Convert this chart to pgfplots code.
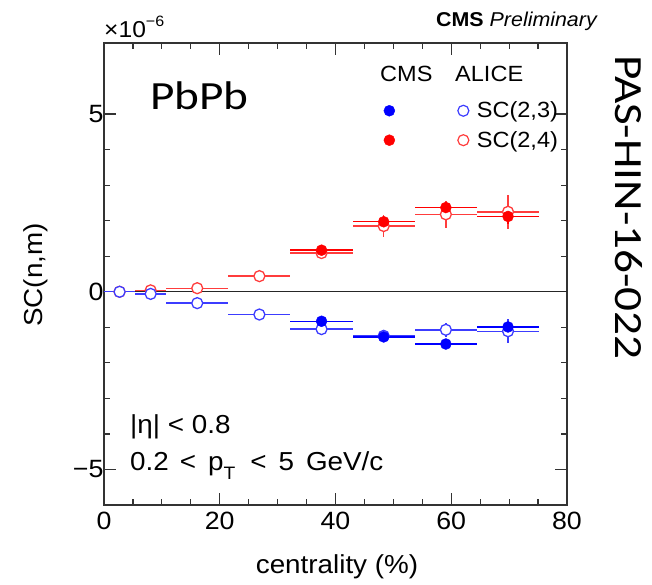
\documentclass[border=0pt]{standalone}
\usepackage{fontspec}
\setmainfont{Liberation Sans}[FakeStretch=1.07]
\newfontfamily\calfont{Carlito}[FakeStretch=1.18]
\usepackage{pgfplots}
\usepackage{pgfplotstable}
\pgfplotsset{compat=1.18}
\definecolor{cmsblue}{RGB}{0,0,255}
\definecolor{cmsred}{RGB}{255,0,0}
\definecolor{aliblue}{RGB}{60,60,255}
\definecolor{alired}{RGB}{255,60,60}
\newcommand{\fs}[1]{\fontsize{#1}{#1}\selectfont}

% ALICE SC(2,3)
\pgfplotstableread{
x y ex ey
2.69 0.00 2.69 0.04
8.06 -0.06 2.69 0.05
16.11 -0.32 5.37 0.06
26.85 -0.64 5.37 0.08
37.59 -1.05 5.37 0.12
48.33 -1.24 5.37 0.15
59.07 -1.07 5.37 0.20
69.81 -1.11 5.37 0.33
}\aliceA
% ALICE SC(2,4)
\pgfplotstableread{
x y ex ey
2.69 0.00 2.69 0.04
8.06 0.04 2.69 0.05
16.11 0.10 5.37 0.06
26.85 0.44 5.37 0.10
37.59 1.09 5.37 0.15
48.33 1.85 5.37 0.30
59.07 2.18 5.37 0.38
69.81 2.25 5.37 0.47
}\aliceB
% CMS SC(2,3)
\pgfplotstableread{
x y ex ey
37.59 -0.83 5.37 0.05
48.33 -1.27 5.37 0.08
59.07 -1.47 5.37 0.08
69.81 -0.99 5.37 0.12
}\cmsA
% CMS SC(2,4)
\pgfplotstableread{
x y ex ey
37.59 1.17 5.37 0.08
48.33 1.97 5.37 0.12
59.07 2.37 5.37 0.12
69.81 2.12 5.37 0.22
}\cmsB

\begin{document}
\begin{tikzpicture}
\path[use as bounding box] (-104pt,-79pt) rectangle (548pt,505pt);
\begin{axis}[
  at={(0pt,0pt)}, anchor=south west,
  scale only axis, width=463pt, height=462pt,
  xmin=0, xmax=80, ymin=-6, ymax=7,
  xtick={0,20,40,60,80}, xticklabels={0,20,40,60,80},
  minor x tick num=3,
  ytick={-5,0,5}, yticklabels={−5,0,5},
  minor y tick num=4,
  tick align=inside,
  major tick length=12pt, minor tick length=6pt,
  axis line style={line width=1.2pt, black!80},
  every tick/.append style={line width=1.2pt, black!80},
  tick label style={font=\fs{25}},
  xticklabel style={yshift=-4pt},
  yticklabel style={xshift=3pt},
  legend columns=2,
  legend style={at={(axis description cs:0.604,0.877)}, anchor=north west,
    draw=none, fill=none, inner sep=0pt, font=\fs{22},
    row sep=8pt,
    nodes={inner sep=2pt},
    /tikz/every odd column/.append style={column sep=6pt},
    /tikz/every even column/.append style={column sep=53pt}},
  legend image code/.code={\draw[#1] plot coordinates {(0pt,0pt)};},
  legend cell align=left,
]
\addplot[black!85, line width=1.4pt, forget plot] coordinates {(0,0) (80,0)};

% ALICE error bars
\addplot[draw=none, mark=none, forget plot,
  error bars/.cd, x dir=both, x explicit, y dir=both, y explicit,
  error mark=none, error bar style={line width=1.4pt, alired}]
  table[x=x, y=y, x error=ex, y error=ey]{\aliceB};
\addplot[draw=none, mark=none, forget plot,
  error bars/.cd, x dir=both, x explicit, y dir=both, y explicit,
  error mark=none, error bar style={line width=1.4pt, aliblue}]
  table[x=x, y=y, x error=ex, y error=ey]{\aliceA};
% ALICE markers (open circles)
\addplot[alired, only marks, mark=*, mark size=5.5pt, line width=1.3pt,
  mark options={fill=white, draw=alired}, forget plot]
  table[x=x, y=y]{\aliceB};
\addplot[aliblue, only marks, mark=*, mark size=5.5pt, line width=1.3pt,
  mark options={fill=white, draw=aliblue}, forget plot]
  table[x=x, y=y]{\aliceA};
% CMS
\addplot[cmsred, only marks, mark=*, mark size=5.5pt, forget plot,
  error bars/.cd, x dir=both, x explicit, y dir=both, y explicit,
  error mark=none, error bar style={line width=1.4pt, cmsred}]
  table[x=x, y=y, x error=ex, y error=ey]{\cmsB};
\addplot[cmsblue, only marks, mark=*, mark size=5.5pt, forget plot,
  error bars/.cd, x dir=both, x explicit, y dir=both, y explicit,
  error mark=none, error bar style={line width=1.4pt, cmsblue}]
  table[x=x, y=y, x error=ex, y error=ey]{\cmsA};

\addlegendimage{only marks, mark=*, mark size=5.5pt, cmsblue}
\addlegendentry{}
\addlegendimage{only marks, mark=o, mark size=5.5pt, line width=1.2pt, aliblue}
\addlegendentry{SC(2,3)}
\addlegendimage{only marks, mark=*, mark size=5.5pt, cmsred}
\addlegendentry{}
\addlegendimage{only marks, mark=o, mark size=5.5pt, line width=1.2pt, alired}
\addlegendentry{SC(2,4)}
\end{axis}

\node[anchor=base, font=\fs{26}, inner sep=0pt] at (233pt,-68pt) {centrality (\%)};
\node[rotate=90, anchor=base, font=\fs{26}, inner sep=0pt] at (-61pt,230pt) {SC(n,m)};
\node[anchor=base east, font=\fs{20}, inner sep=0pt] at (494pt,478pt) {\textbf{CMS} \textit{Preliminary}};
\node[anchor=base west, font=\fs{23}, inner sep=0pt] at (0pt,467pt) {×10\raisebox{0.5em}{\fs{15}−6}};
\node[anchor=base west, font=\calfont\fs{40}, inner sep=0pt] at (46pt,395pt) {PbPb};
\node[rotate=-90, anchor=base west, font=\calfont\fs{40}, inner sep=0pt] at (511pt,450pt) {PAS-HIN-16-022};
\node[anchor=base west, font=\fs{22}, inner sep=0pt] at (276pt,423pt) {CMS};
\node[anchor=base west, font=\fs{22}, inner sep=0pt] at (351pt,423pt) {ALICE};
\node[anchor=base west, font=\fs{26}, inner sep=0pt] at (26pt,72pt) {|η| < 0.8};
\node[anchor=base west, font=\fs{26}, inner sep=0pt] at (26pt,35pt) {0.2\hspace{11pt}<\hspace{12pt}p\raisebox{-0.35em}{\fs{18}T}\hspace{15pt}<\hspace{12pt}5\hspace{12pt}GeV/c};
\end{tikzpicture}
\end{document}
